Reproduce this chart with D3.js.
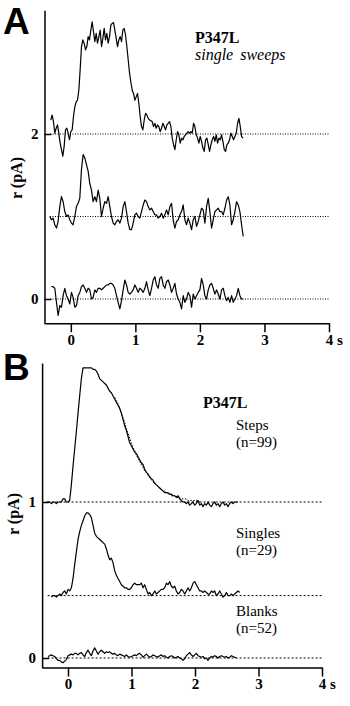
<!DOCTYPE html>
<html>
<head>
<meta charset="utf-8">
<script src="https://cdn.jsdelivr.net/npm/d3@7"></script>
<style>
  html, body { margin: 0; padding: 0; background: #fff; }
  svg { display: block; }
</style>
</head>
<body>
<svg id="chart" width="350" height="706"></svg>
<script>
// ---- data -------------------------------------------------------------
const timeTicks = [0, 1, 2, 3, 4];

// Panel A: three single sweeps, drawn offset by 2, 1 and 0 pA
const sweepOffsets = [2, 1, 0];
const sweepStart = [-0.31, -0.326, -0.30];       // s
const sweepInterval = [0.02067, 0.02584, 0.02584]; // s per sample
const sweepTop = [
  0.17, 0.23, 0.15, 0.01, 0.07, 0.11, 0.01, -0.11, -0.19, -0.27, -0.15, 0.05, 0.07, 0.01, -0.07, 0.03,
  0.05, 0.21, 0.33, 0.39, 0.41, 0.53, 0.78, 1.06, 1.14, 1.10, 1.02, 1.06, 1.18, 1.14, 1.26, 1.36,
  1.24, 1.12, 1.22, 1.10, 1.18, 1.26, 1.06, 1.16, 1.28, 1.14, 1.22, 1.10, 1.18, 1.32, 1.34, 1.35,
  1.26, 1.16, 1.06, 1.14, 1.18, 1.12, 1.26, 1.28, 1.20, 1.06, 0.90, 0.74, 0.63, 0.53, 0.49, 0.41,
  0.45, 0.49, 0.37, 0.21, 0.09, 0.05, 0.17, 0.25, 0.23, 0.19, 0.17,
  0.16, 0.15, 0.09, 0.13, 0.07, 0.11, 0.09, 0.03, 0.07, 0.13, 0.09, 0.05, 0.11, 0.13, 0.15, 0.09,
  -0.05, -0.13, -0.19, -0.07, 0.03, -0.01, -0.11, -0.05, -0.07, -0.03, -0.01, 0.01, 0.03, 0.01, 0.03, 0.01,
  0.13, 0.09, -0.01, -0.05, -0.11, -0.03, -0.09, -0.17, -0.21, -0.07, -0.05, -0.13, -0.21, -0.13, -0.07, -0.03,
  -0.09, -0.01, -0.11, -0.05, -0.07, -0.01, -0.09, -0.19, -0.21, -0.13, -0.11, -0.07, 0.01, -0.03, -0.07, -0.03,
  0.01, 0.13, 0.19, 0.09, -0.03, -0.05
];
const sweepMiddle = [
  0.00, -0.04, -0.02, -0.10, -0.14, -0.06, 0.12, 0.24, 0.18, 0.06, 0.00, 0.02, -0.04, -0.08, -0.10, 0.00,
  0.12, 0.16, 0.22, 0.57, 0.75, 0.71, 0.63, 0.55, 0.40, 0.32, 0.18, 0.24, 0.18, 0.32, 0.22, 0.00,
  0.10, 0.18, 0.16, 0.24, 0.12, 0.00, -0.08, -0.10, -0.06, -0.04, -0.08, -0.02, 0.12, 0.18, 0.06, -0.08,
  -0.16, -0.16, -0.08, 0.02, 0.04, 0.00, -0.02, 0.06, 0.14, 0.20, 0.18, 0.12, 0.08, 0.10, 0.06, 0.02,
  0.02, -0.02, 0.00, 0.04, -0.02, 0.02, 0.08, 0.02, 0.12, 0.16, -0.04, -0.14, -0.06, -0.04, 0.02, 0.06,
  0.14, -0.04, -0.10, -0.02, -0.08, -0.16, -0.04, 0.00, -0.12, -0.06, 0.02, 0.10, 0.08, -0.08, 0.12, 0.22,
  0.06, -0.14, -0.04, 0.06, 0.08, 0.10, 0.06, 0.06, 0.02, 0.10, 0.20, 0.24, 0.14, -0.10, -0.04, 0.06,
  0.18, 0.14, 0.06, -0.10, -0.24
];
const sweepBottom = [
  0.15, 0.15, 0.13, -0.04, -0.20, -0.08, -0.10, 0.04, 0.13, 0.04, 0.00, -0.06, 0.08, 0.02, -0.10, -0.08,
  0.04, 0.08, 0.15, 0.17, 0.13, 0.08, 0.13, 0.11, 0.00, 0.02, 0.11, 0.08, 0.13, 0.13, 0.11, 0.13,
  0.15, 0.17, 0.17, 0.19, 0.19, 0.17, 0.13, 0.04, -0.04, -0.12, -0.02, 0.11, 0.23, 0.17, 0.08, 0.06,
  0.08, 0.11, 0.17, 0.13, 0.08, 0.13, 0.11, 0.08, 0.13, 0.21, 0.11, 0.04, 0.13, 0.23, 0.27, 0.17,
  0.13, 0.25, 0.27, 0.17, 0.13, 0.21, 0.23, 0.17, 0.08, 0.13, 0.19, 0.06, 0.00, -0.04, -0.12, 0.04,
  -0.04, 0.00, 0.08, 0.04, -0.10, 0.06, 0.00, 0.04, 0.08, 0.11, 0.25, 0.17, 0.04, 0.00, 0.11, 0.17,
  0.19, 0.13, 0.06, 0.11, 0.06, 0.00, 0.11, 0.13, 0.04, -0.02, 0.02, -0.04, 0.04, -0.04, 0.00, 0.04,
  0.13, 0.04, 0.00, 0.00
];

// Panel B: averaged traces (pA) and the fitted decay of the step average
const levelLines = [1, 0.4, 0];
const stepsStart = -0.341, singlesStart = -0.262, blanksStart = -0.315, fitStart = 0.735;
const meanInterval = 0.02625;
const stepsMean = [
  1.00, 1.00, 1.00, 0.99, 1.00, 1.00, 0.99, 1.00, 1.00, 1.00, 1.02, 1.02, 1.00, 1.00, 1.01,
  1.11, 1.23, 1.34, 1.45, 1.57, 1.68, 1.79,
  1.86, 1.86, 1.86, 1.86, 1.86, 1.86, 1.85,
  1.85, 1.84, 1.82, 1.79, 1.78, 1.77, 1.76, 1.75, 1.73, 1.71, 1.70, 1.68, 1.66, 1.64, 1.62, 1.60,
  1.57, 1.53, 1.49, 1.46, 1.42, 1.38, 1.36, 1.34, 1.32, 1.31, 1.29, 1.27, 1.25, 1.24, 1.21, 1.19,
  1.18, 1.16, 1.15, 1.14, 1.12, 1.11, 1.10, 1.09, 1.08, 1.07, 1.06, 1.06, 1.06, 1.05, 1.05, 1.04,
  1.04, 1.03, 1.04, 1.02, 1.01, 1.00, 1.00,
  0.99, 1.00, 0.98, 0.99, 1.00, 0.98, 0.99, 1.01, 0.98, 0.99, 0.97, 0.99, 0.98, 1.00, 0.98, 0.97,
  0.99, 1.00, 0.98, 0.99, 0.97, 0.99, 1.00, 0.98, 0.99, 0.97, 0.99, 1.00, 0.99, 1.00, 1.00, 1.00
];
const stepsFit = [
  1.67, 1.65, 1.63, 1.60, 1.57, 1.54, 1.51, 1.47, 1.44, 1.41, 1.38, 1.35, 1.33, 1.30, 1.28, 1.26,
  1.24, 1.22, 1.20, 1.19, 1.17, 1.16, 1.14, 1.13, 1.12, 1.11, 1.10, 1.09, 1.08, 1.07, 1.07, 1.06,
  1.05, 1.05, 1.04, 1.04, 1.04, 1.03, 1.03, 1.03, 1.02, 1.02, 1.02, 1.02, 1.01, 1.01, 1.01, 1.01,
  1.01, 1.01, 1.01, 1.00
];
const singlesMean = [
  0.39, 0.40, 0.40, 0.39, 0.40, 0.41, 0.40, 0.42, 0.43, 0.41, 0.44, 0.43, 0.45, 0.51, 0.60, 0.68,
  0.76, 0.81, 0.85, 0.88, 0.91, 0.93, 0.93, 0.92, 0.90, 0.85, 0.80, 0.78, 0.77, 0.76, 0.75, 0.74,
  0.73, 0.70, 0.66, 0.63, 0.64, 0.61, 0.56, 0.53, 0.51, 0.49, 0.47, 0.46, 0.45, 0.45, 0.44, 0.44,
  0.45, 0.47, 0.48, 0.47, 0.47, 0.47, 0.48, 0.45, 0.47, 0.44, 0.41, 0.42, 0.40, 0.41, 0.43, 0.41,
  0.42, 0.43, 0.44, 0.44, 0.45, 0.48, 0.47, 0.49, 0.46, 0.45, 0.46, 0.43, 0.41, 0.42, 0.44, 0.43,
  0.41, 0.43, 0.45, 0.43, 0.45, 0.48, 0.49, 0.47, 0.45, 0.43, 0.43, 0.42, 0.43, 0.42, 0.41, 0.41,
  0.43, 0.42, 0.43, 0.40, 0.41, 0.43, 0.41, 0.39, 0.40, 0.42, 0.40, 0.40, 0.41, 0.40, 0.41, 0.42,
  0.43, 0.42
];
const blanksMean = [
  0.010, 0.015, 0.020, 0.015, 0.010, -0.005, -0.015, -0.015, -0.025, -0.030, -0.020, -0.010, 0.015, 0.020,
  0.025, 0.020, 0.030, 0.030, 0.020, 0.030, 0.035, 0.020, 0.010, 0.035, 0.050, 0.030, 0.015, 0.045,
  0.065, 0.045, 0.025, 0.040, 0.050, 0.040, 0.030, 0.040, 0.035, 0.040, 0.030, 0.025, 0.030, 0.020,
  0.015, 0.025, 0.020, 0.015, 0.010, 0.020, 0.010, 0.005, 0.010, 0.015, 0.020, 0.015, 0.025, 0.030,
  0.020, 0.005, 0.015, 0.025, 0.015, 0.005, 0.010, 0.020, 0.015, 0.010, 0.005, 0.015, 0.020, 0.010,
  0.015, 0.005, 0.000, 0.010, 0.015, 0.010, 0.000, 0.005, 0.010, 0.000, -0.005, -0.015, -0.005, 0.015,
  0.025, 0.035, 0.020, 0.010, 0.020, 0.030, 0.015, 0.010, 0.005, 0.010, -0.005, 0.000, -0.015, 0.000,
  0.010, 0.005, 0.015, 0.010, 0.000, 0.010, 0.015, 0.010, 0.005, 0.010, 0.000, 0.005, 0.015, 0.010,
  0.005, 0.000
];

// ---- drawing -----------------------------------------------------------
const serif = "'Liberation Serif', 'Times New Roman', serif";
const sans = "'Liberation Sans', Arial, sans-serif";
const svg = d3.select('#chart');

const sampled = (values, t0, dt, offset = 0) =>
  values.map((v, i) => ({ t: t0 + i * dt, v: v + offset }));

function drawAxes(x, y, yTicks, yAxisTop, yAxisBottom) {
  const gx = svg.append('g')
    .attr('transform', `translate(0,${y(yAxisBottom) - 0.5})`)
    .call(d3.axisBottom(x).tickValues(timeTicks).tickSizeInner(9).tickSizeOuter(0)
      .tickPadding(2).tickFormat(d3.format('d')));
  const gy = svg.append('g')
    .attr('transform', `translate(${x.range()[0] - 0.5},0)`)
    .call(d3.axisLeft(y.copy().domain([yAxisBottom, yAxisTop]).range([y(yAxisBottom), y(yAxisTop)]))
      .tickValues(yTicks).tickSizeInner(-7).tickSizeOuter(0).tickPadding(6)
      .tickFormat(d3.format('d')));
  [gx, gy].forEach(g => {
    g.attr('font-family', serif).attr('font-size', 15).attr('font-weight', 'bold');
    g.selectAll('path, line').attr('stroke-width', 1.5).attr('stroke', '#000');
    g.selectAll('text').attr('fill', '#000');
  });
  svg.append('text')
    .attr('x', x(4) + 8).attr('y', y(yAxisBottom) + 21)
    .attr('font-family', serif).attr('font-size', 15).attr('font-weight', 'bold')
    .text('s');
}

function levelLine(x, y, level, dash) {
  svg.append('line')
    .attr('x1', x.range()[0] + 5).attr('x2', x(4))
    .attr('y1', y(level)).attr('y2', y(level))
    .attr('stroke', '#000').attr('stroke-width', 1)
    .attr('stroke-dasharray', dash);
}

function trace(x, y, data, opts = {}) {
  svg.append('path')
    .datum(data)
    .attr('fill', 'none')
    .attr('stroke', '#000')
    .attr('stroke-width', opts.width || 1.2)
    .attr('stroke-linejoin', 'round')
    .attr('stroke-dasharray', opts.dash || null)
    .attr('d', d3.line().x(d => x(d.t)).y(d => y(d.v)));
}

function yLabel(cx, cy) {
  svg.append('text')
    .attr('transform', `translate(${cx},${cy}) rotate(-90)`)
    .attr('text-anchor', 'middle')
    .attr('font-family', serif).attr('font-size', 16).attr('font-weight', 'bold')
    .text('r (pA)');
}

function panelLetter(letter, px, py) {
  svg.append('text')
    .attr('x', px).attr('y', py)
    .attr('font-family', sans).attr('font-size', 37).attr('font-weight', 'bold')
    .text(letter);
}

// Panel A
const xA = d3.scaleLinear().domain([-0.4, 4]).range([45, 329]);
const yA = d3.scaleLinear().domain([-0.3, 3.5]).range([323.75, 10.25]);

sweepOffsets.forEach(lv => levelLine(xA, yA, lv, '1,1.5'));
[sweepTop, sweepMiddle, sweepBottom].forEach((vals, i) =>
  trace(xA, yA, sampled(vals, sweepStart[i], sweepInterval[i], sweepOffsets[i])));
drawAxes(xA, yA, [0, 2], 3.5, -0.3);
yLabel(22, 178);
panelLetter('A', 3, 34);

svg.append('text').attr('x', 195).attr('y', 43)
  .attr('font-family', serif).attr('font-size', 16).attr('font-weight', 'bold')
  .text('P347L');
svg.append('text').attr('x', 195).attr('y', 60)
  .attr('font-family', serif).attr('font-size', 16).attr('font-style', 'italic')
  .attr('word-spacing', 3)
  .text('single sweeps');

// Panel B
const xB = d3.scaleLinear().domain([-0.4, 4]).range([42.6, 322]);
const yB = d3.scaleLinear().domain([-0.064, 1.891]).range([668, 363]);

levelLines.forEach(lv => levelLine(xB, yB, lv, '2,2'));
trace(xB, yB, sampled(stepsMean, stepsStart, meanInterval));
trace(xB, yB, sampled(stepsFit, fitStart, meanInterval), { dash: '1.5,1.5', width: 1 });
trace(xB, yB, sampled(singlesMean, singlesStart, meanInterval));
trace(xB, yB, sampled(blanksMean, blanksStart, meanInterval));
drawAxes(xB, yB, [0, 1], 1.891, -0.064);
yLabel(19, 514);
panelLetter('B', 3, 380);

svg.append('text').attr('x', 203).attr('y', 408)
  .attr('font-family', serif).attr('font-size', 16).attr('font-weight', 'bold')
  .text('P347L');

// group names, each with its sweep count on the line below
const groupLabels = [
  { name: 'Steps', n: '(n=99)', y: 430 },
  { name: 'Singles', n: '(n=29)', y: 538 },
  { name: 'Blanks', n: '(n=52)', y: 616 }
];
groupLabels.forEach(g => {
  svg.append('text').attr('x', 236).attr('y', g.y)
    .attr('font-family', serif).attr('font-size', 15).text(g.name);
  svg.append('text').attr('x', 236).attr('y', g.y + 17)
    .attr('font-family', serif).attr('font-size', 15).text(g.n);
});
</script>
</body>
</html>
